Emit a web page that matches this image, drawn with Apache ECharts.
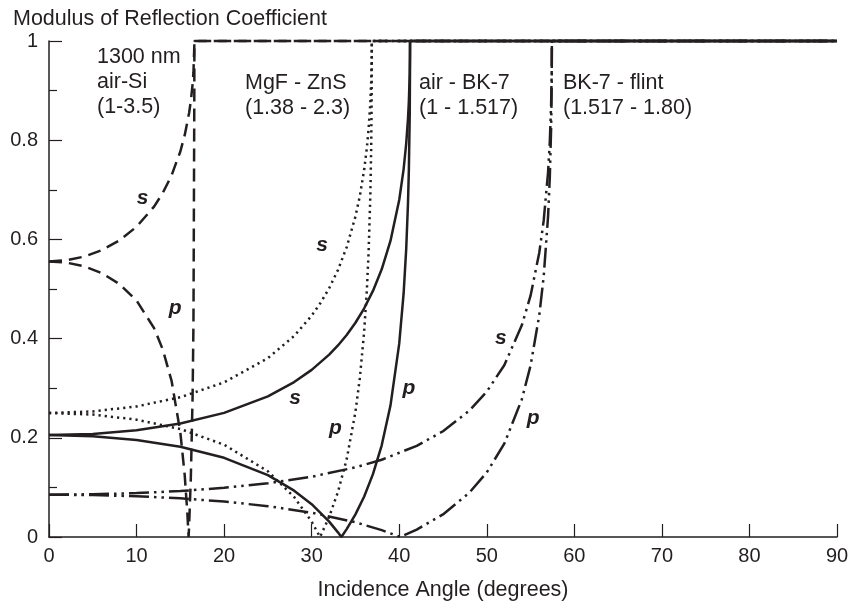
<!DOCTYPE html>
<html>
<head>
<meta charset="utf-8">
<script src="https://cdn.jsdelivr.net/npm/echarts@6/dist/echarts.min.js"></script>
<style>html,body{margin:0;padding:0;background:#fff}#c{width:852px;height:606px}</style>
</head>
<body>
<div id="c"></div>
<script>
// x tick values / y tick values
const xTicks = [0, 10, 20, 30, 40, 50, 60, 70, 80, 90];
const yTicks = [0, 0.2, 0.4, 0.6, 0.8, 1];

// [incidence angle (deg), |r|]
const airSi_s = [[0,0.5556],[2,0.5579],[4,0.5653],[6,0.5781],[8,0.5975],[10,0.6255],[12,0.6662],[13,0.6938],[14,0.7291],[15,0.7773],[15.5,0.8101],[16,0.8549],[16.2,0.8794],[16.4,0.9127],[16.5,0.9371],[16.6,0.9919],[16.602,1],[90,1]];
const airSi_p = [[0,0.5556],[2,0.5532],[4,0.5457],[6,0.5322],[8,0.5106],[10,0.4768],[12,0.4210],[13,0.3778],[14,0.3149],[15,0.2110],[15.5,0.1247],[15.8,0.0487],[15.945,0],[16,0.0212],[16.2,0.1198],[16.4,0.2829],[16.5,0.4311],[16.6,0.9054],[16.602,1],[90,1]];
const mgf_s = [[0,0.25],[5,0.2532],[10,0.2633],[15,0.2817],[20,0.3118],[25,0.3606],[28,0.4053],[30,0.4462],[31,0.4716],[32,0.5017],[33,0.5383],[34,0.5844],[35,0.6461],[35.5,0.6872],[36,0.7408],[36.3,0.7840],[36.5,0.8218],[36.7,0.8753],[36.8,0.9181],[36.85,0.9554],[36.87,1],[90,1]];
const mgf_p = [[0,0.25],[5,0.2468],[10,0.2366],[15,0.2177],[20,0.1861],[25,0.1325],[28,0.0806],[30,0.0309],[30.96,0],[32,0.0407],[33,0.0907],[34,0.1569],[35,0.2522],[35.5,0.3201],[36,0.4149],[36.3,0.4967],[36.5,0.5726],[36.7,0.6881],[36.8,0.7878],[36.85,0.8809],[36.87,1],[90,1]];
const bk7_s = [[0,0.2054],[5,0.2078],[10,0.2153],[15,0.2288],[20,0.2502],[25,0.2835],[28,0.3123],[30,0.3369],[32,0.3677],[33,0.3862],[34,0.4074],[35,0.4320],[36,0.4611],[37,0.4961],[38,0.5397],[39,0.5968],[40,0.6795],[40.5,0.7413],[40.8,0.7937],[41,0.8431],[41.1,0.8780],[41.2,0.9335],[41.23,0.9731],[41.236,1],[90,1]];
const bk7_p = [[0,0.2054],[5,0.2030],[10,0.1955],[15,0.1818],[20,0.1597],[25,0.1246],[28,0.0934],[30,0.0661],[32,0.0310],[33,0.0094],[33.39,0],[34,0.0158],[35,0.0456],[36,0.0818],[37,0.1267],[38,0.1848],[39,0.2650],[40,0.3898],[40.5,0.4905],[40.8,0.5814],[41,0.6724],[41.1,0.7398],[41.2,0.8534],[41.23,0.9392],[41.236,1],[90,1]];
const flint_s = [[0,0.0853],[5,0.0861],[10,0.0885],[15,0.0927],[20,0.0991],[25,0.1083],[30,0.1215],[35,0.1404],[38,0.1558],[42,0.1838],[45,0.2132],[48,0.2547],[50,0.2932],[52,0.3464],[54,0.4268],[55,0.4865],[56,0.5735],[56.5,0.6377],[57,0.7353],[57.2,0.7976],[57.35,0.8729],[57.42,0.9444],[57.435,1],[90,1]];
const flint_p = [[0,0.0853],[5,0.0845],[10,0.0821],[15,0.0779],[20,0.0715],[25,0.0622],[30,0.0490],[35,0.0297],[38,0.0139],[40.125,0],[42,0.0149],[45,0.0455],[48,0.0891],[50,0.1302],[52,0.1881],[54,0.2774],[55,0.3455],[56,0.4476],[56.5,0.5250],[57,0.6464],[57.2,0.7263],[57.35,0.8256],[57.42,0.9226],[57.435,1],[90,1]];

// annotation texts
const pairLabels = [
  ['1300 nm', 'air-Si', '(1-3.5)'],
  ['MgF - ZnS', '(1.38 - 2.3)'],
  ['air - BK-7', '(1 - 1.517)'],
  ['BK-7 - flint', '(1.517 - 1.80)']
];
const polLabels = ['s', 'p', 's', 'p', 's', 'p', 's', 'p'];
// anchor of each s/p label in data coordinates [angle, |r|]
const polAnchors = [[10.7,0.683],[14.4,0.462],[31.2,0.589],[32.7,0.22],[28.1,0.28],[41.1,0.30],[51.6,0.40],[55.3,0.24]];

const INK = '#231f20';
const FONT = '"Liberation Sans", Arial, Helvetica, sans-serif';
const chart = echarts.init(document.getElementById('c'), null, {renderer: 'canvas'});

function mk(name, data, type, width, z) {
  return {name, type: 'line', data, showSymbol: false, symbol: 'none', clip: false, z: z || 2,
    lineStyle: {color: INK, width: width, type: type, cap: 'butt'}, silent: true};
}
const dashA = [13, 7];
const dotB = [2.2, 4];
const dddD = [20, 5, 2.5, 5, 2.5, 5];

chart.setOption({
  animation: false,
  backgroundColor: '#fff',
  title: {text: 'Modulus of Reflection Coefficient', left: 8, top: 3,
    textStyle: {fontFamily: FONT, fontSize: 21.5, fontWeight: 'normal', color: INK}},
  grid: {left: 49, right: 15, top: 41, bottom: 69},
  xAxis: {type: 'value', min: 0, max: 90, interval: 10,
    name: 'Incidence Angle (degrees)', nameLocation: 'middle', nameGap: 42,
    nameTextStyle: {fontFamily: FONT, fontSize: 21.5, color: INK},
    axisLine: {lineStyle: {color: INK, width: 1.5}},
    axisTick: {inside: true, length: 13, lineStyle: {color: INK, width: 1.2}},
    axisLabel: {fontFamily: FONT, fontSize: 20, color: INK, margin: 9,
      formatter: v => xTicks.includes(v) ? String(v) : ''},
    splitLine: {show: false}},
  yAxis: {type: 'value', min: 0, max: 1, interval: 0.2,
    axisLine: {show: true, lineStyle: {color: INK, width: 1.5}},
    axisTick: {show: true, inside: true, length: 13, lineStyle: {color: INK, width: 1.2}},
    minorTick: {show: true, splitNumber: 2, length: 8, lineStyle: {color: INK, width: 1.2}},
    axisLabel: {fontFamily: FONT, fontSize: 20, color: INK, margin: 11,
      formatter: v => { const t = yTicks.find(y => Math.abs(y - v) < 1e-9); return t === undefined ? '' : String(t); }},
    splitLine: {show: false}},
  series: [
    mk('air-Si s', airSi_s, dashA, 2.5),
    mk('air-Si p', airSi_p, dashA, 2.5),
    mk('MgF-ZnS s', mgf_s, dotB, 2.5),
    mk('MgF-ZnS p', mgf_p, dotB, 2.5),
    mk('BK-7 flint s', flint_s, dddD, 2.5),
    mk('BK-7 flint p', flint_p, dddD, 2.5),
    mk('air-BK-7 s', bk7_s, 'solid', 2.5, 3),
    mk('air-BK-7 p', bk7_p, 'solid', 2.5, 3)
  ]
});

// annotations
const g = [];
const pairPos = [[97, 58], [245, 84], [419, 84], [563, 84]];
pairLabels.forEach((lines, i) => {
  lines.forEach((t, j) => {
    g.push({type: 'text', left: pairPos[i][0], top: pairPos[i][1] + j * 25 - 12, silent: true,
      style: {text: t, font: '21.5px ' + FONT, fill: INK}});
  });
});
polAnchors.forEach((a, i) => {
  const p = chart.convertToPixel({gridIndex: 0}, a);
  g.push({type: 'text', x: p[0], y: p[1], silent: true,
    style: {text: polLabels[i], font: 'italic bold 21px ' + FONT, fill: INK, align: 'center', verticalAlign: 'middle'}});
});
chart.setOption({graphic: g});
</script>
</body>
</html>
